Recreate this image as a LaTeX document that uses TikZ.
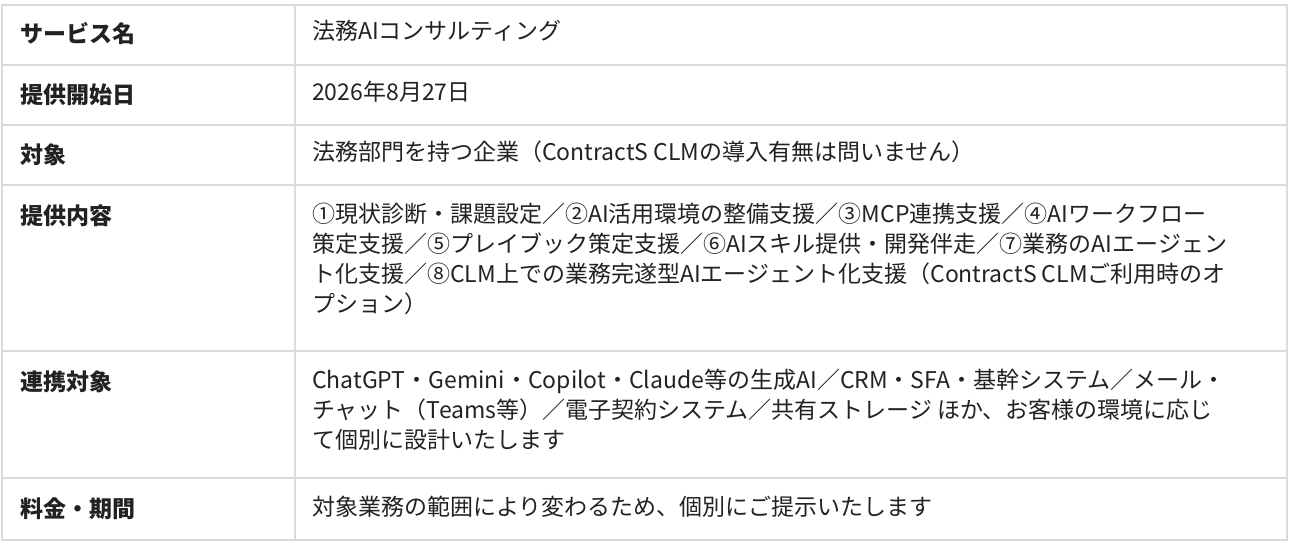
\documentclass[tikz,border=0pt]{standalone}
\usepackage{fontspec}
\setmainfont{Noto Sans CJK JP}
\usetikzlibrary{positioning}
\definecolor{rule}{HTML}{D8DADD}
\definecolor{ink}{HTML}{222222}
\tikzset{
	head/.style={anchor=west,font=\fontsize{23}{30}\selectfont\bfseries,text=ink,inner sep=0pt},
	val/.style={anchor=north west,font=\fontsize{23}{30}\selectfont,text=ink,inner sep=0pt,align=left}
}
\begin{document}
\begin{tikzpicture}[x=1pt,y=-1pt]
	\useasboundingbox (0,0) rectangle (1294,544);
	
	%Grille du tableau
	\draw[rule,line width=2pt] (2,5) rectangle (1287,540);
	\draw[rule,line width=2pt] (295,5) -- (295,540);
	\foreach \y in {65,125,185,351,478} {
		\draw[rule,line width=2pt] (2,\y) -- (1287,\y);
	}
	
	%Intitules
	\node[head] (h1) at (20,34) {サービス名};
	\node[head] (h2) at (20,95) {提供開始日};
	\node[head] (h3) at (20,155) {対象};
	\node[head] (h4) at (20,216) {提供内容};
	\node[head] (h5) at (20,382) {連携対象};
	\node[head] (h6) at (20,509) {料金・期間};
	
	%Contenus
	\node[val] (v1) at (312,20) {法務AIコンサルティング};
	\node[val] (v2) at (312,81) {2026年8月27日};
	\node[val] (v3) at (312,141) {法務部門を持つ企業（ContractS CLMの導入有無は問いません）};
	\node[val] (v4) at (312,203) {①現状診断・課題設定／②AI活用環境の整備支援／③MCP連携支援／④AIワークフロー\\
		策定支援／⑤プレイブック策定支援／⑥AIスキル提供・開発伴走／⑦業務のAIエージェン\\
		ト化支援／⑧CLM上での業務完遂型AIエージェント化支援（ContractS CLMご利用時のオ\\
		プション）};
	\node[val] (v5) at (312,369) {ChatGPT・Gemini・Copilot・Claude等の生成AI／CRM・SFA・基幹システム／メール・\\
		チャット（Teams等）／電子契約システム／共有ストレージ ほか、お客様の環境に応じ\\
		て個別に設計いたします};
	\node[val] (v6) at (312,496) {対象業務の範囲により変わるため、個別にご提示いたします};
	
\end{tikzpicture}
\end{document}
